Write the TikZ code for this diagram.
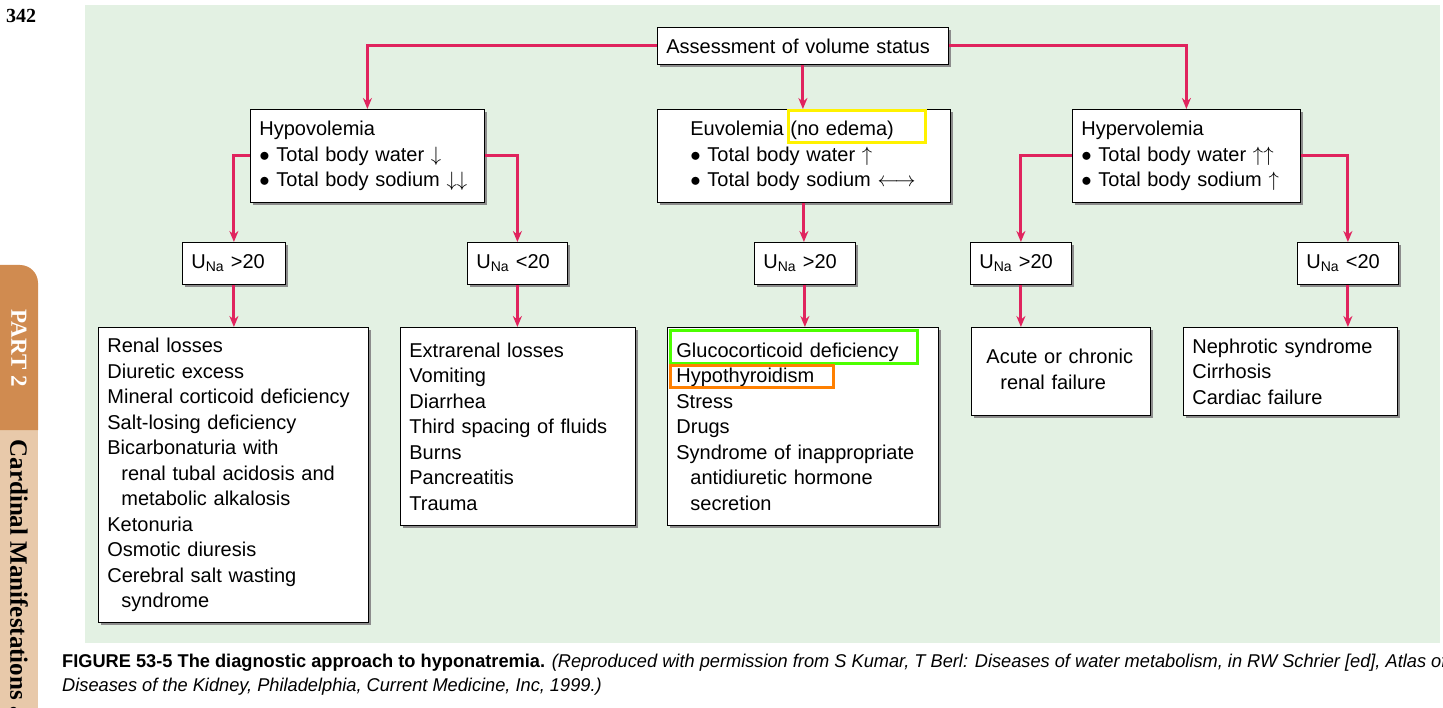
\documentclass[tikz,border=0pt]{standalone}
\usepackage{fontspec}
\setmainfont{Liberation Sans}
\newfontfamily\serifbk{Liberation Serif}
\usetikzlibrary{shadows,arrows.meta}
\definecolor{bgreen}{HTML}{E3F1E3}
\definecolor{arrred}{HTML}{E0245E}
\definecolor{tabdark}{HTML}{D08B50}
\definecolor{tablight}{HTML}{E8C9AA}
\begin{document}
\begin{tikzpicture}
	 [x=1pt,y=-1pt,font=\fontsize{20}{25.5}\selectfont,
	  box/.style={draw=black,thick,fill=white,anchor=north west,align=left,
	   inner xsep=9pt,inner ysep=5pt,drop shadow={shadow xshift=3pt,shadow yshift=-3pt,fill=black!45,opacity=1}},
	  arr/.style={draw=arrred,line width=3pt,-{Stealth[length=11pt,width=9pt]}},
	  hilite/.style={line width=3pt}]
	\useasboundingbox (0,0) rectangle (1443,708);
	\fill[bgreen] (85,5) rectangle (1440,643);

%	side tab and page number
	\fill[tablight] (0,430) rectangle (38,708);
	\fill[tabdark] (0,265) -- (20,265) arc[start angle=90,end angle=0,radius=18pt] -- (38,430) -- (0,430) -- cycle;
	\node[font=\serifbk\bfseries\fontsize{20}{22}\selectfont] (pg) at (21,16) {342};
	\node[rotate=-90,text=white,font=\serifbk\bfseries\fontsize{23}{24}\selectfont] (part) at (19,348) {PART 2};
	\node[rotate=-90,anchor=west,font=\serifbk\bfseries\fontsize{25}{26}\selectfont] (ch) at (19,436) {Cardinal Manifestations a};

	  \node[box,text width=273pt,minimum height=37pt] (top) at (657,27) {Assessment of volume status};
	  \node[box,text width=216pt,minimum height=93pt] (hypo) at (250,109) {Hypovolemia\\ $\bullet$ Total body water $\downarrow$\\ $\bullet$ Total body sodium $\downarrow\downarrow$};
	  \node[box,text width=275pt,minimum height=93pt] (euvo) at (657,109) {\hspace*{24pt}Euvolemia (no edema)\\ \hspace*{24pt}$\bullet$ Total body water $\uparrow$\\ \hspace*{24pt}$\bullet$ Total body sodium $\longleftrightarrow$};
	  \node[box,text width=210pt,minimum height=93pt] (hyper) at (1072,109) {Hypervolemia\\ $\bullet$ Total body water $\uparrow\uparrow$\\ $\bullet$ Total body sodium $\uparrow$};

	  \node[box,text width=85pt,minimum height=42pt] (ua) at (182,242) {U\textsubscript{Na} >20};
	  \node[box,text width=82pt,minimum height=42pt] (ub) at (467,242) {U\textsubscript{Na} <20};
	  \node[box,text width=83pt,minimum height=42pt] (uc) at (754,242) {U\textsubscript{Na} >20};
	  \node[box,text width=83pt,minimum height=42pt] (ud) at (970,242) {U\textsubscript{Na} >20};
	  \node[box,text width=83pt,minimum height=42pt] (ue) at (1297,242) {U\textsubscript{Na} <20};

	  \node[box,text width=252pt,minimum height=295pt] (la) at (98,327) {Renal losses\\ Diuretic excess\\ Mineral corticoid deficiency\\ Salt-losing deficiency\\ Bicarbonaturia with\\ \hspace*{14pt}renal tubal acidosis and\\ \hspace*{14pt}metabolic alkalosis\\ Ketonuria\\ Osmotic diuresis\\ Cerebral salt wasting\\ \hspace*{14pt}syndrome};
	  \node[box,text width=217pt,minimum height=198pt] (lb) at (400,327) {Extrarenal losses\\ Vomiting\\ Diarrhea\\ Third spacing of fluids\\ Burns\\ Pancreatitis\\ Trauma};
	  \node[box,text width=253pt,minimum height=198pt] (lc) at (667,327) {Glucocorticoid deficiency\\ Hypothyroidism\\ Stress\\ Drugs\\ Syndrome of inappropriate\\ \hspace*{14pt}antidiuretic hormone\\ \hspace*{14pt}secretion};
	  \node[box,text width=161pt,minimum height=88pt,text depth=30pt] (ld) at (971,327) {\hspace*{6pt}Acute or chronic\\ \hspace*{20pt}renal failure};
	  \node[box,text width=196pt,minimum height=88pt] (le) at (1183,327) {Nephrotic syndrome\\ Cirrhosis\\ Cardiac failure};

	\draw[arr] (top.west) -| (hypo.north);
	\draw[arr] (top.east) -| (hyper.north);
	\draw[arr] (top.south) -- (top.south |- euvo.north);
	\draw[arr] (hypo.west) -| (ua.north);
	\draw[arr] (hypo.east) -| (ub.north);
	\draw[arr] (euvo.south) -- (euvo.south |- uc.north);
	\draw[arr] (hyper.west) -| (ud.north);
	\draw[arr] (hyper.east) -| (ue.north);
	\foreach \from/\to in {ua/la,ub/lb,uc/lc,ud/ld,ue/le}
    \draw[arr] (\from.south) -- (\from.south |- \to.north);

%	highlight marks
	\draw[hilite,draw=yellow] (788,111) rectangle (925,143);
	\draw[hilite,draw=green!70!yellow] (670,331) rectangle (917,364);
	\draw[hilite,draw=orange] (670,366) rectangle (833,388);

	\node[anchor=north west,align=left,inner sep=0pt,font=\fontsize{18.5}{24}\selectfont] (cap) at (62,654)
	  {\scalebox{0.985}[1]{\textbf{FIGURE 53-5 The diagnostic approach to hyponatremia.} \textit{(Reproduced with permission from S Kumar, T Berl: Diseases of water metabolism, in RW Schrier [ed], Atlas of}}\\
	   \scalebox{0.985}[1]{\textit{Diseases of the Kidney, Philadelphia, Current Medicine, Inc, 1999.)}}};
\end{tikzpicture}
\end{document}
